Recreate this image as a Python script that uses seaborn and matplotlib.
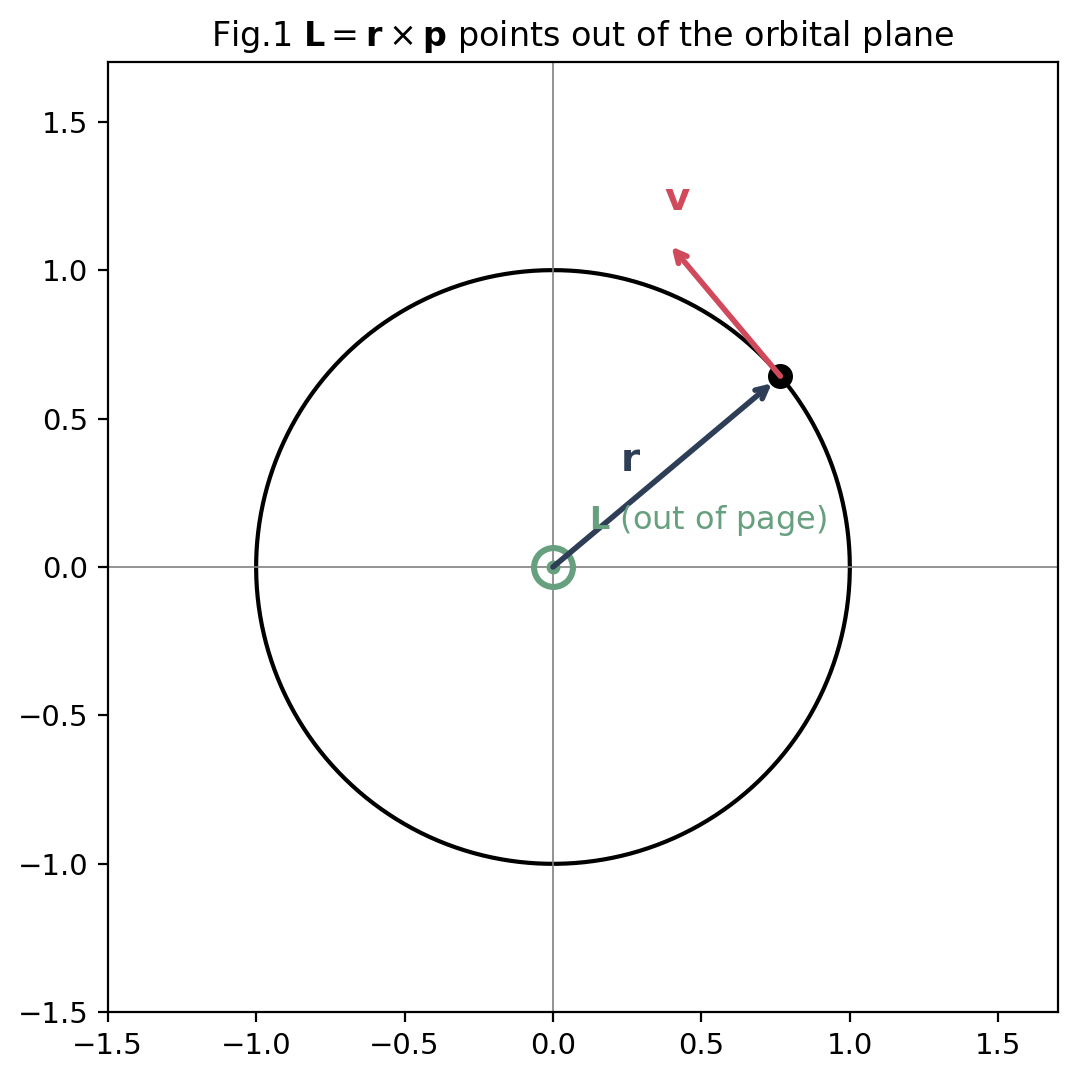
import numpy as np
import matplotlib
matplotlib.use("Agg")
import matplotlib.pyplot as plt
import seaborn as sns

sns.set_style("white")
plt.rcParams['font.family'] = ['DejaVu Sans']
plt.rcParams.update({'text.color': 'black', 'axes.labelcolor': 'black',
                     'xtick.color': 'black', 'ytick.color': 'black'})

theta_deg = 40.0
radius = 1.0
v_len = 0.57
xlim = [-1.5, 1.7]
ylim = [-1.5, 1.7]

t = np.linspace(0, 2*np.pi, 400)
fig, ax = plt.subplots(figsize=(5.385, 5.4), dpi=200)
sns.lineplot(x=radius*np.cos(t), y=radius*np.sin(t), sort=False, estimator=None,
             color='black', lw=1.5, ax=ax)
ax.axhline(0, color='grey', lw=0.6)
ax.axvline(0, color='grey', lw=0.6)

th = np.radians(theta_deg)
px, py = radius*np.cos(th), radius*np.sin(th)
ax.annotate('', xy=(px, py), xytext=(0, 0),
            arrowprops=dict(arrowstyle='->', color='#2e3e56', lw=2, shrinkA=0, shrinkB=4))
ax.annotate('', xy=(px - v_len*np.sin(th), py + v_len*np.cos(th)), xytext=(px, py),
            arrowprops=dict(arrowstyle='->', color='#d14a5c', lw=2, shrinkA=0, shrinkB=0))
ax.plot(px, py, 'o', color='black', ms=8)
ax.plot(0, 0, 'o', mfc='none', mec='#66a07e', ms=14, mew=2.2)
ax.plot(0, 0, 'o', color='#66a07e', ms=4)
ax.text(0.26, 0.36, r'$\mathbf{r}$', color='#2e3e56', fontsize=14, ha='center', va='center')
ax.text(0.42, 1.24, r'$\mathbf{v}$', color='#d14a5c', fontsize=14, ha='center', va='center')
ax.text(0.12, 0.155, r'$\mathbf{L}$ (out of page)', color='#66a07e', fontsize=11.5, ha='left', va='center')

ax.set_xlim(xlim)
ax.set_ylim(ylim)
ax.set_aspect('equal')
ax.set_xticks([-1.5, -1.0, -0.5, 0.0, 0.5, 1.0, 1.5])
ax.set_yticks([-1.5, -1.0, -0.5, 0.0, 0.5, 1.0, 1.5])
ax.tick_params(left=True, bottom=True, length=3.5, labelsize=10.5)
for s in ax.spines.values():
    s.set_color('black'); s.set_linewidth(0.8)
ax.set_title(r'Fig.1 $\mathbf{L}=\mathbf{r}\times\mathbf{p}$ points out of the orbital plane', fontsize=12)
fig.subplots_adjust(left=0.1, right=0.982, bottom=0.062, top=0.943)
fig.savefig('out.png')
